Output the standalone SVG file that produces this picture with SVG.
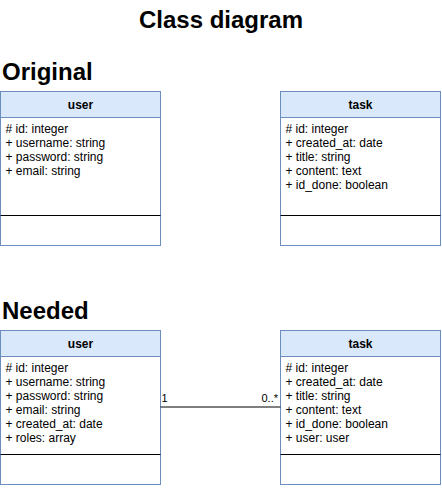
<svg xmlns="http://www.w3.org/2000/svg" width="442" height="488" viewBox="0 0 442 488">
<style>
text{font-family:"Liberation Sans",Arial,Helvetica,sans-serif;fill:#000}
.big{font-size:24px;font-weight:bold}
.hdr{fill:#dae8fc;stroke:#6c8ebf;stroke-width:1}
.body{fill:#fff;stroke:#6c8ebf;stroke-width:1}
.sep{stroke:#000;stroke-width:1}
.name{font-size:12px;font-weight:bold;text-anchor:middle}
.attr{font-size:12px}
.lbl{font-size:11px}
.edge{stroke:#000;stroke-width:1;fill:none}
</style>
<rect width="442" height="488" fill="#fff"/>
<text class="big" x="221" y="28" text-anchor="middle">Class diagram</text>
<text class="big" x="2" y="80">Original</text>
<text class="big" x="2" y="319">Needed</text>

<g id="user-original">
<rect class="body" x="0.5" y="91.5" width="160" height="154"/>
<rect class="hdr" x="0.5" y="91.5" width="160" height="26"/>
<text class="name" x="80.5" y="108.5">user</text>
<text class="attr" x="5.5" y="133">
<tspan x="5.5" y="133"># id: integer</tspan>
<tspan x="5.5" y="147">+ username: string</tspan>
<tspan x="5.5" y="161">+ password: string</tspan>
<tspan x="5.5" y="175">+ email: string</tspan>
</text>
<line class="sep" x1="0.5" y1="215.5" x2="160.5" y2="215.5"/>
</g>

<g id="task-original">
<rect class="body" x="280.5" y="91.5" width="160" height="154"/>
<rect class="hdr" x="280.5" y="91.5" width="160" height="26"/>
<text class="name" x="360.5" y="108.5">task</text>
<text class="attr" x="285.5" y="133">
<tspan x="285.5" y="133"># id: integer</tspan>
<tspan x="285.5" y="147">+ created_at: date</tspan>
<tspan x="285.5" y="161">+ title: string</tspan>
<tspan x="285.5" y="175">+ content: text</tspan>
<tspan x="285.5" y="189">+ id_done: boolean</tspan>
</text>
<line class="sep" x1="280.5" y1="215.5" x2="440.5" y2="215.5"/>
</g>

<g id="user-needed">
<rect class="body" x="0.5" y="330.5" width="160" height="154"/>
<rect class="hdr" x="0.5" y="330.5" width="160" height="26"/>
<text class="name" x="80.5" y="347.5">user</text>
<text class="attr" x="5.5" y="372">
<tspan x="5.5" y="372"># id: integer</tspan>
<tspan x="5.5" y="386">+ username: string</tspan>
<tspan x="5.5" y="400">+ password: string</tspan>
<tspan x="5.5" y="414">+ email: string</tspan>
<tspan x="5.5" y="428">+ created_at: date</tspan>
<tspan x="5.5" y="442">+ roles: array</tspan>
</text>
<line class="sep" x1="0.5" y1="454.5" x2="160.5" y2="454.5"/>
</g>

<g id="task-needed">
<rect class="body" x="280.5" y="330.5" width="160" height="154"/>
<rect class="hdr" x="280.5" y="330.5" width="160" height="26"/>
<text class="name" x="360.5" y="347.5">task</text>
<text class="attr" x="285.5" y="372">
<tspan x="285.5" y="372"># id: integer</tspan>
<tspan x="285.5" y="386">+ created_at: date</tspan>
<tspan x="285.5" y="400">+ title: string</tspan>
<tspan x="285.5" y="414">+ content: text</tspan>
<tspan x="285.5" y="428">+ id_done: boolean</tspan>
<tspan x="285.5" y="442">+ user: user</tspan>
</text>
<line class="sep" x1="280.5" y1="454.5" x2="440.5" y2="454.5"/>
</g>

<g id="connectors">
<line class="edge" x1="160.5" y1="407" x2="280.5" y2="407"/>
<text class="lbl" x="161.5" y="402">1</text>
<text class="lbl" x="278" y="402" text-anchor="end">0..*</text>
</g>
</svg>
